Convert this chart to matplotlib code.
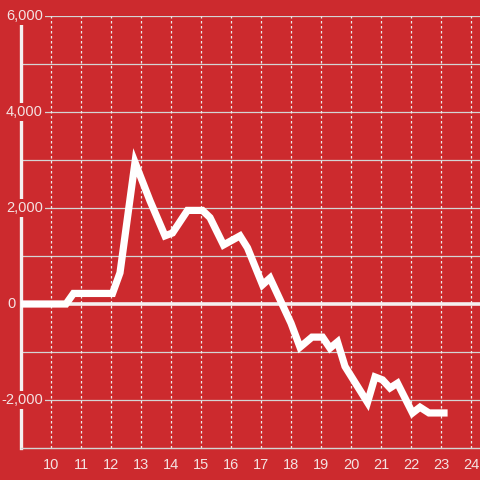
import numpy as np
import matplotlib.pyplot as plt

# values
hours = [9.0, 10.5, 10.75, 12.05, 12.3, 12.8, 13.3, 13.8, 14.05, 14.55, 15.05,
         15.3, 15.75, 16.3, 16.55, 17.05, 17.3, 18.0, 18.3, 18.7, 19.05, 19.3,
         19.55, 19.8, 20.2, 20.55, 20.8, 21.05, 21.3, 21.55, 22.05, 22.3, 22.6, 23.1]
values = [0, 0, 220, 220, 650, 2950, 2150, 1420, 1480, 1950, 1950,
          1800, 1230, 1420, 1170, 400, 540, -400, -900, -690, -690, -920,
          -790, -1300, -1700, -2050, -1520, -1580, -1750, -1650, -2270, -2150, -2270, -2270]
x_ticks = list(range(10, 25))
y_labels = {6000: "6,000", 4000: "4,000", 2000: "2,000", 0: "0", -2000: "-2,000"}

bg = "#cc2a2e"
txt = "#f4e2e2"
grid = "#d4d4d4"

fig = plt.figure(figsize=(4.8, 4.8), dpi=100, facecolor=bg)
ax = fig.add_axes([21 / 480, 32 / 480, 459 / 480, 432 / 480])
ax.set_facecolor(bg)
ax.set_xlim(9, 9 + 459 / 30)
ax.set_ylim(-3000, 6000)

# grid
for yv in range(-2000, 7000, 1000):
    if yv != 0:
        ax.axhline(yv, color=grid, lw=0.9, zorder=1)
for xv in x_ticks:
    ax.axvline(xv, color="#ececec", lw=0.9, ls=(0, (2, 2)), zorder=1)
ax.axhline(0, color="#f5f0f0", lw=2.6, zorder=2)

ax.plot(hours, values, color="white", lw=5.2, solid_joinstyle="miter", zorder=3)

for s in ["top", "right"]:
    ax.spines[s].set_visible(False)
ax.spines["left"].set_color("#f5f0f0")
ax.spines["left"].set_linewidth(2.4)
ax.spines["bottom"].set_color(grid)
ax.spines["bottom"].set_linewidth(1.0)

ax.set_yticks([])
ax.set_xticks(x_ticks)
ax.tick_params(axis="x", length=0, pad=7, labelcolor=txt, labelsize=10.5)
for lab in ax.get_xticklabels():
    lab.set_fontfamily("Liberation Sans")

for yv, lab in y_labels.items():
    xpos = 9 + 22 / 30 if yv != 0 else 9 - 5 / 30
    ax.text(xpos, yv, lab, ha="right", va="center", color=txt, fontsize=10.5,
            family="Liberation Sans", zorder=5, clip_on=False,
            bbox=dict(facecolor=bg, edgecolor="none", pad=1.5))

fig.savefig("out.png", dpi=100, facecolor=bg)
